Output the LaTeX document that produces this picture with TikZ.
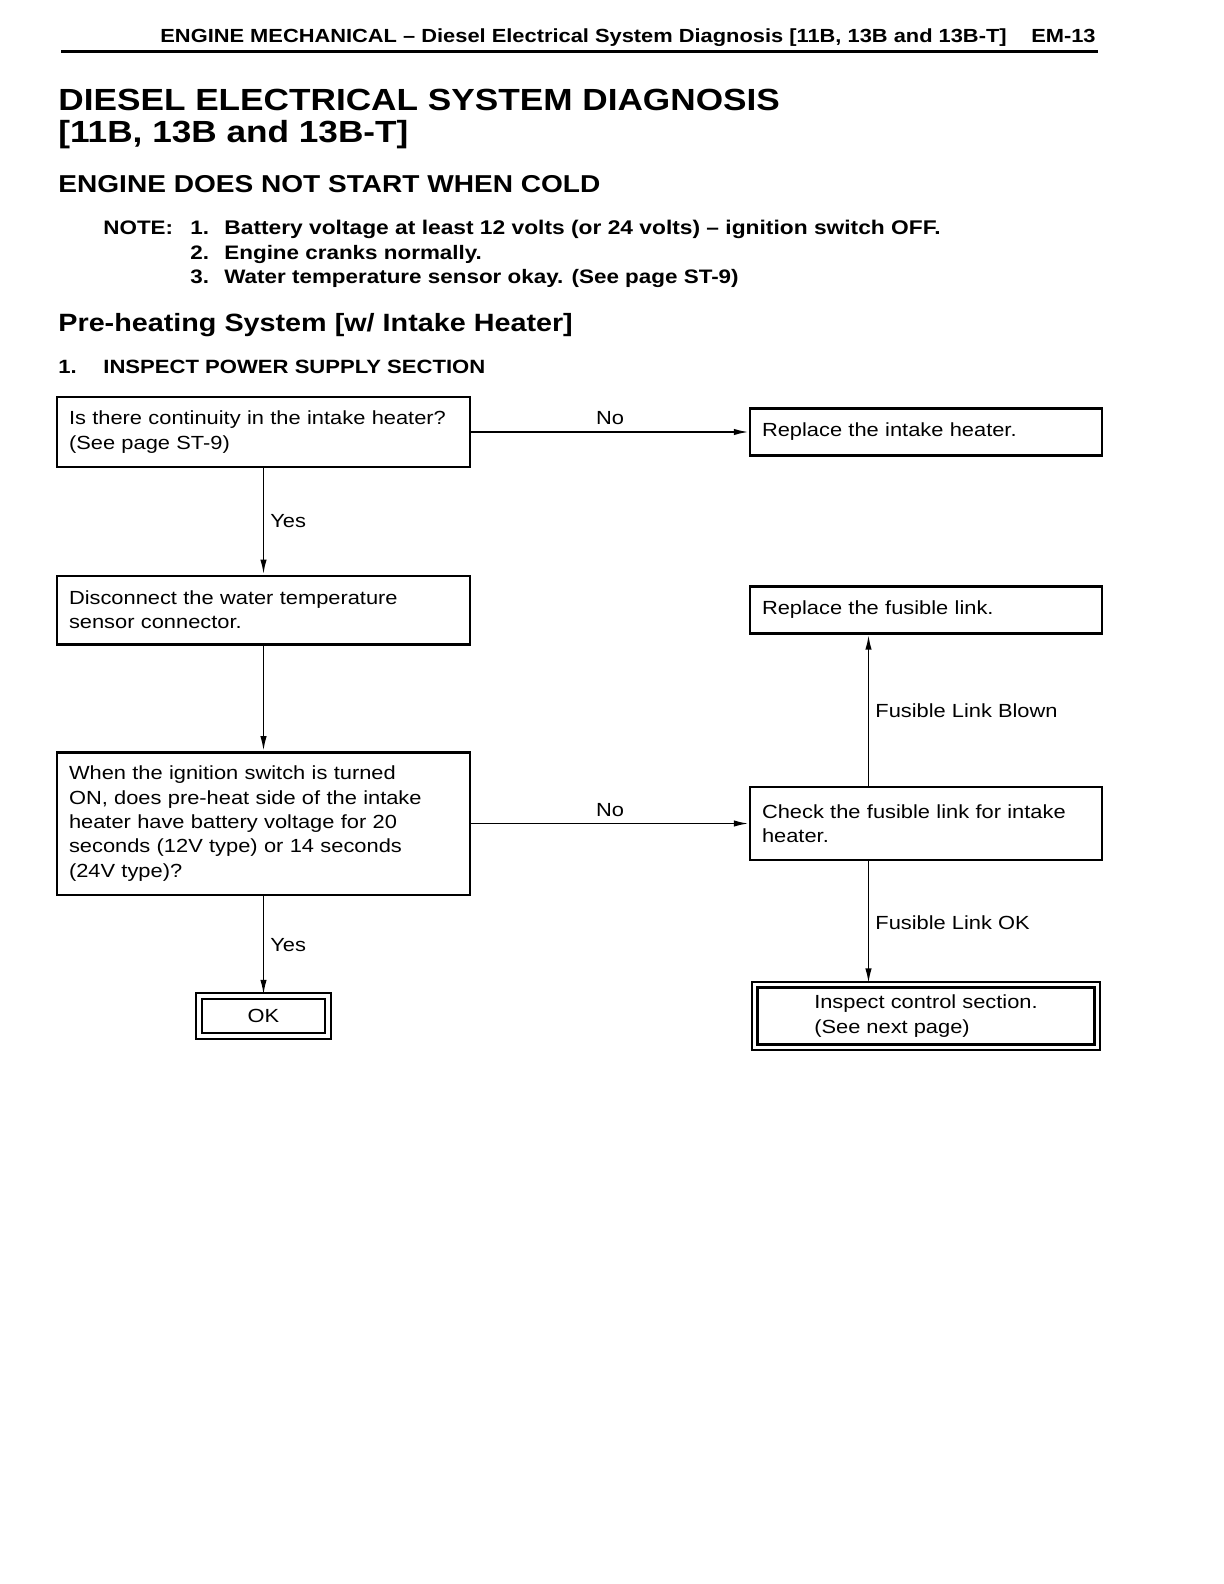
\documentclass[tikz,border=0pt]{standalone}
\usepackage{fontspec}
\setmainfont{Liberation Sans}[FakeStretch=1.15]
\usetikzlibrary{positioning,arrows.meta}

\begin{document}
\begin{tikzpicture}[x=0.5pt, y=-0.5pt, >={Latex[length=7.5pt,width=3.2pt]},
   node distance = 89pt and 331.25pt, on grid,
   box/.style={draw, line width=1.2pt, align=left, inner xsep=6pt, inner ysep=0pt,
      text width=#1, font=\fontsize{9.5}{12.2}\selectfont},
   dbox/.style={draw, double, double distance=1.6pt, line width=1.2pt, align=left,
      font=\fontsize{9.5}{12.2}\selectfont},
   lbl/.style={font=\fontsize{9.5}{12}\selectfont, inner sep=3pt},
   head/.style={anchor=base west, inner sep=0pt, font=\bfseries}]
   \useasboundingbox (0,0) rectangle (1224,1584);

   % page heading
   \node[head, font=\bfseries\fontsize{9.5}{12}\selectfont] (h_0) at (160,43)
      {ENGINE MECHANICAL -- Diesel Electrical System Diagnosis [11B, 13B and 13B-T]};
   \node[head, anchor=base east, font=\bfseries\fontsize{9.5}{12}\selectfont] (h_1) at (1096,43) {EM-13};
   \draw[line width=1.5pt] (61,52) -- (1098,52);

   \node[head, font=\bfseries\fontsize{15.3}{18}\selectfont] (t_0) at (58,111) {DIESEL ELECTRICAL SYSTEM DIAGNOSIS};
   \node[head, font=\bfseries\fontsize{15.3}{18}\selectfont] (t_1) at (58,142.5) {[11B, 13B and 13B-T]};
   \node[head, font=\bfseries\fontsize{12.2}{15}\selectfont] (t_2) at (58,192) {ENGINE DOES NOT START WHEN COLD};

   % notes
   \node[head, font=\bfseries\fontsize{9.75}{12}\selectfont] (n_0) at (103,234) {NOTE:};
   \node[head, font=\bfseries\fontsize{9.75}{12}\selectfont] (n_1) at (190,234) {1.};
   \node[head, font=\bfseries\fontsize{9.75}{12}\selectfont] (n_2) at (190,259.5) {2.};
   \node[head, font=\bfseries\fontsize{9.75}{12}\selectfont] (n_3) at (190,283) {3.};
   \node[head, font=\bfseries\fontsize{9.9}{12}\selectfont] (m_1) at (224,234)
      {Battery voltage at least 12 volts (or 24 volts) -- ignition switch OFF.};
   \node[head, font=\bfseries\fontsize{9.75}{12}\selectfont] (m_2) at (224,259.5) {Engine cranks normally.};
   \node[head, font=\bfseries\fontsize{9.75}{12}\selectfont] (m_3) at (224,283) {Water temperature sensor okay. (See page ST-9)};

   \node[head, font=\bfseries\fontsize{12.5}{15}\selectfont] (s_0) at (58,331) {Pre-heating System [w/ Intake Heater]};
   \node[head, font=\bfseries\fontsize{9.6}{12}\selectfont] (s_1) at (58,373) {1.};
   \node[head, font=\bfseries\fontsize{9.6}{12}\selectfont] (s_2) at (103,373) {INSPECT POWER SUPPLY SECTION};

   % chart
   \node[box=194.5pt, minimum height=35pt] (b_1) at (263.5,432)
      {Is there continuity in the intake heater?\\(See page ST-9)};
   \node[box=194.5pt, minimum height=34.3pt] (b_2) [below = of b_1]
      {Disconnect the water temperature\\sensor connector.};
   \node[box=194.5pt, minimum height=71.2pt] (b_3) [below = 106.75pt of b_2]
      {When the ignition switch is turned\\ON, does pre-heat side of the intake\\heater have battery voltage for 20\\seconds (12V type) or 14 seconds\\(24V type)?};
   \node[dbox, minimum width=64.5pt, minimum height=20pt, align=center] (ok) [below = 96.25pt of b_3] {OK};

   \node[box=164pt, minimum height=23.5pt] (r_1) [right = of b_1] {Replace the intake heater.};
   \node[box=164pt, minimum height=23.5pt] (r_2) [right = of b_2] {Replace the fusible link.};
   \node[box=164pt, minimum height=36.3pt] (c_1) [right = of b_3]
      {Check the fusible link for intake\\heater.};
   \node[dbox, minimum width=171.3pt, minimum height=31.4pt] (c_2) [right = of ok]
      {Inspect control section.\\(See next page)};

   \path[->, line width=0.9pt]
    (b_1) edge node[lbl, above] {No} (r_1)
          edge node[lbl, right] {Yes} (b_2)
    (b_2) edge (b_3)
    (b_3) edge node[lbl, above] {No} (c_1)
          edge node[lbl, right] {Yes} (ok)
    ([xshift=-28.75pt]c_1.north) edge node[lbl, right] {Fusible Link Blown} ([xshift=-28.75pt]r_2.south)
    ([xshift=-28.75pt]c_1.south) edge node[lbl, right] {Fusible Link OK} ([xshift=-28.75pt]c_2.north);
\end{tikzpicture}
\end{document}
